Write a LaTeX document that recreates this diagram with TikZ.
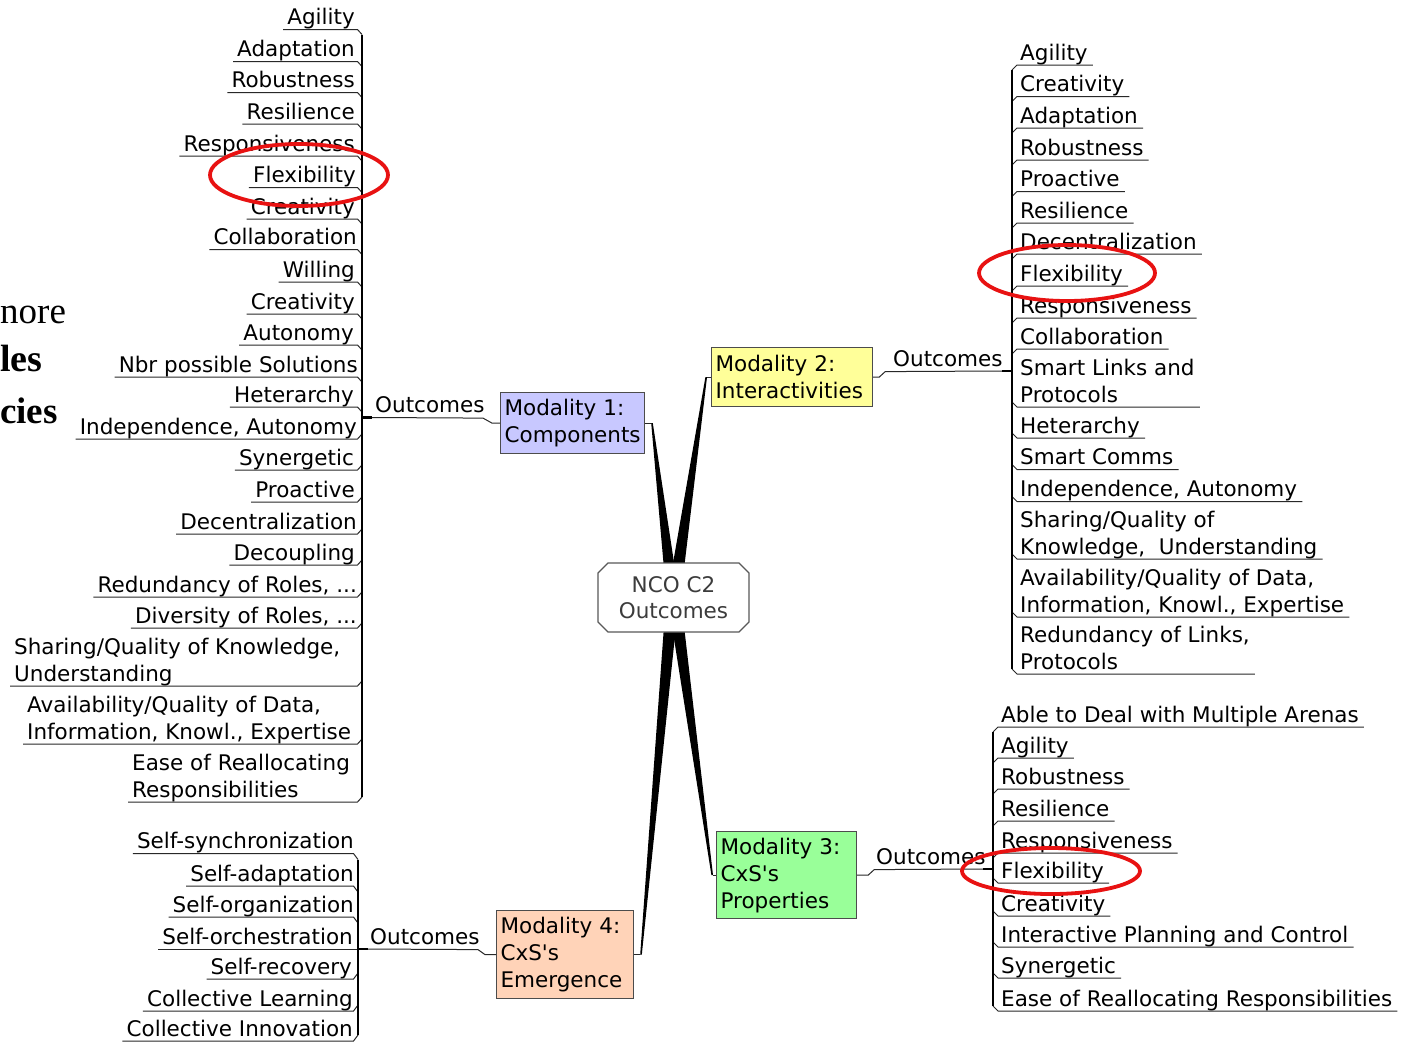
\documentclass[tikz,border=0pt]{standalone}
\usepackage{fontspec}
\setmainfont{DejaVu Sans}
\newfontfamily\serifface{Liberation Serif}
\usetikzlibrary{calc,shapes.misc}

\definecolor{modA}{RGB}{200,200,255}
\definecolor{modB}{RGB}{255,255,153}
\definecolor{modC}{RGB}{153,255,153}
\definecolor{modD}{RGB}{255,211,184}
\definecolor{inkline}{RGB}{40,40,40}
\definecolor{markred}{RGB}{232,18,18}
\definecolor{hubtext}{RGB}{60,60,60}

\tikzset{
  item/.style={inner sep=0pt, align=left, font=\fontsize{21.5}{27}\selectfont},
  twig/.style={draw=inkline, line width=1pt},
  spine/.style={draw=black, line width=1.4pt},
  stub/.style={draw=black, line width=2.6pt},
  modbox/.style={draw=black!70, line width=1.2pt, anchor=north west,
    inner xsep=4pt, inner ysep=0pt, align=left,
    font=\fontsize{21.5}{27}\selectfont},
  wedge/.style={fill=black, draw=none},
  redmark/.style={draw=markred, line width=3.8pt},
}

% topic placed left of a spine, text right-aligned
% #1 name, #2 right x of text, #3 underline y, #4 text, #5 kink dy, #6 spine x
\newcommand\LItem[6]{%
  \node[item, anchor=south east] (#1) at (#2,#3+3.6) {#4\strut};
  \draw[twig] ($(#1.south west)+(-4,-3.6)$) -- (#6-4.5,#3) -- (#6,#3+#5);
}
% multi-line topic left of a spine, text starts at #2
\newcommand\LBlock[6]{%
  \node[item, anchor=south west] (#1) at (#2,#3+3.6) {#4\strut};
  \draw[twig] ($(#1.south west)+(-4,-3.6)$) -- (#6-4.5,#3) -- (#6,#3+#5);
}
% topic placed right of a spine, text starts at #2
\newcommand\RItem[6]{%
  \node[item, anchor=south west] (#1) at (#2,#3+3.6) {#4\strut};
  \draw[twig] (#6,#3+#5) -- (#6+5,#3) -- ($(#1.south east)+(5,-3.6)$);
}

\begin{document}
\begin{tikzpicture}[x=1pt,y=-1pt]
\fill[white] (0,0) rectangle (1418,1042);
\useasboundingbox (0,0) rectangle (1418,1042);

% words at the left border
\node[anchor=base west, inner sep=0pt, font=\serifface\fontsize{37}{37}\selectfont] (w1) at (0,323) {nore};
\node[anchor=base west, inner sep=0pt, font=\serifface\bfseries\fontsize{38}{38}\selectfont] (w2) at (0,371) {les};
\node[anchor=base west, inner sep=0pt, font=\serifface\bfseries\fontsize{37}{37}\selectfont] (w3) at (0,423) {cies};

% ---------------- modality boxes ----------------
\node[modbox, fill=modA, minimum width=144pt, minimum height=61pt, text width=136pt] (m1) at (500,392) {Modality 1:\\Components};
\node[modbox, fill=modB, minimum width=161pt, minimum height=59pt, text width=153pt] (m2) at (711,347) {Modality 2:\\Interactivities};
\node[modbox, fill=modC, minimum width=140pt, minimum height=87pt, text width=132pt] (m3) at (716,831) {Modality 3:\\CxS\textquotesingle s\\Properties};
\node[modbox, fill=modD, minimum width=137pt, minimum height=88pt, text width=129pt] (m4) at (496,910) {Modality 4:\\CxS\textquotesingle s\\Emergence};

% hub position (drawn later, above the wedges)
\coordinate (hubN) at (673.5,563);
\coordinate (hubS) at (673.5,632);

% tapered connectors from the hub to the modalities
\coordinate (t1) at ($(m1.east)+(6,0)$);
\coordinate (t2) at ($(m2.west)+(-4,0)$);
\coordinate (t3) at ($(m3.west)+(-3,0)$);
\coordinate (t4) at ($(m4.east)+(6,0)$);
\draw[twig] (m1.east) -- (t1);
\draw[twig] (m2.west) -- (t2);
\draw[twig] (m3.west) -- (t3);
\draw[twig] (m4.east) -- (t4);
\fill[wedge] (t1) -- ($(t1)+(1.6,0)$) -- ($(hubN)+(1.5,6)$) -- ($(hubN)+(-9.5,6)$) -- cycle;
\fill[wedge] (t2) -- ($(t2)+(-1.6,0)$) -- ($(hubN)+(-1.5,6)$) -- ($(hubN)+(10.5,6)$) -- cycle;
\fill[wedge] (t4) -- ($(t4)+(1.6,0)$) -- ($(hubS)+(2.5,-6)$) -- ($(hubS)+(-9.5,-6)$) -- cycle;
\fill[wedge] (t3) -- ($(t3)+(-1.6,0)$) -- ($(hubS)+(-1.5,-6)$) -- ($(hubS)+(10.5,-6)$) -- cycle;

\node[chamfered rectangle, chamfered rectangle xsep=5pt, chamfered rectangle ysep=5pt,
      draw=black!65, line width=1.2pt, fill=white,
      minimum width=151pt, minimum height=69pt, inner sep=0pt, text=hubtext,
      align=center, font=\fontsize{21.5}{26}\selectfont] (hub) at (673.5,597.5) {NCO C2\\Outcomes};

% ---------------- Modality 1 outcomes ----------------
\LItem{a1}{355}{29.5}{Agility}{5}{362}
\LItem{a2}{355}{61.5}{Adaptation}{5}{362}
\LItem{a3}{355}{92.5}{Robustness}{5}{362}
\LItem{a4}{355}{124}{Resilience}{5}{362}
\LItem{a5}{355}{156}{Responsiveness}{5}{362}
\LItem{a6}{356}{187.5}{Flexibility}{5}{362}
\LItem{a7}{355}{219}{Creativity}{5}{362}
\LItem{a8}{357}{249.5}{Collaboration}{5}{362}
\LItem{a9}{355}{282}{Willing}{5}{362}
\LItem{a10}{355}{314}{Creativity}{5}{362}
\LItem{a11}{354}{345}{Autonomy}{5}{362}
\LItem{a12}{358}{377}{Nbr possible Solutions}{5}{362}
\LItem{a13}{354}{407}{Heterarchy}{5}{362}
\LItem{a14}{357}{439}{Independence, Autonomy}{-5}{362}
\LItem{a15}{354}{470}{Synergetic}{-5}{362}
\LItem{a16}{355}{502}{Proactive}{-5}{362}
\LItem{a17}{357}{534}{Decentralization}{-5}{362}
\LItem{a18}{355}{565}{Decoupling}{-5}{362}
\LItem{a19}{357}{597}{Redundancy of Roles, ...}{-5}{362}
\LItem{a20}{357}{628}{Diversity of Roles, ...}{-5}{362}
\LBlock{a21}{14}{686}{Sharing/Quality of Knowledge,\\Understanding}{-5}{362}
\LBlock{a22}{27}{744}{Availability/Quality of Data,\\Information, Knowl., Expertise}{-5}{362}
\LBlock{a23}{132}{802}{Ease of Reallocating\\Responsibilities}{-5}{362}
\draw[spine] (362,34.5) -- (362,797);
\node[item, anchor=south west] (o1) at (375,421.1) {Outcomes\strut};
\draw[twig] (m1.west) -- ++(-8,0) -- ++(-9,-5) -- ($(o1.south west)+(-3,-3.6)$);
\draw[stub] (362,417.5) -- ($(o1.south west)+(-3,-3.6)$);

% ---------------- Modality 2 outcomes ----------------
\RItem{b1}{1020}{65}{Agility}{5}{1012}
\RItem{b2}{1020}{96.5}{Creativity}{5}{1012}
\RItem{b3}{1020}{128}{Adaptation}{5}{1012}
\RItem{b4}{1020}{160}{Robustness}{5}{1012}
\RItem{b5}{1020}{191.5}{Proactive}{5}{1012}
\RItem{b6}{1020}{223}{Resilience}{5}{1012}
\RItem{b7}{1020}{254}{Decentralization}{5}{1012}
\RItem{b8}{1020}{286}{Flexibility}{5}{1012}
\RItem{b9}{1020}{318}{Responsiveness}{5}{1012}
\RItem{b10}{1020}{349}{Collaboration}{5}{1012}
\RItem{b11}{1020}{407}{Smart Links and\\Protocols}{-5}{1012}
\RItem{b12}{1020}{438}{Heterarchy}{-5}{1012}
\RItem{b13}{1020}{469.5}{Smart Comms}{-5}{1012}
\RItem{b14}{1020}{501.5}{Independence, Autonomy}{-5}{1012}
\RItem{b15}{1020}{559}{Sharing/Quality of\\Knowledge,\ \ Understanding}{-5}{1012}
\RItem{b16}{1020}{617}{Availability/Quality of Data,\\Information, Knowl., Expertise}{-5}{1012}
\RItem{b17}{1020}{674}{Redundancy of Links,\\Protocols}{-5}{1012}
\draw[spine] (1012,70) -- (1012,669);
\node[item, anchor=south west] (o2) at (893,374.6) {Outcomes\strut};
\draw[twig] (m2.east) -- ++(6,0) -- ++(6,-5.5) -- (1002,371);
\draw[stub] (1002,371) -- (1012,371);

% ---------------- Modality 3 outcomes ----------------
\RItem{c1}{1001}{727}{Able to Deal with Multiple Arenas}{5}{993}
\RItem{c2}{1001}{758}{Agility}{5}{993}
\RItem{c3}{1001}{789}{Robustness}{5}{993}
\RItem{c4}{1001}{821}{Resilience}{5}{993}
\RItem{c5}{1001}{853}{Responsiveness}{5}{993}
\RItem{c6}{1001}{883}{Flexibility}{-5}{993}
\RItem{c7}{1001}{916}{Creativity}{-5}{993}
\RItem{c8}{1001}{947}{Interactive Planning and Control}{-5}{993}
\RItem{c9}{1001}{978}{Synergetic}{-5}{993}
\RItem{c10}{1001}{1011}{Ease of Reallocating Responsibilities}{-5}{993}
\draw[spine] (993,732) -- (993,1006);
\node[item, anchor=south west] (o3) at (876,872.6) {Outcomes\strut};
\draw[twig] (m3.east) -- ++(11,0) -- ++(6,-5.5) -- (983,869);
\draw[stub] (983,869) -- (993,869);

% ---------------- Modality 4 outcomes ----------------
\LItem{d1}{354}{853.5}{Self-synchronization}{6}{358}
\LItem{d2}{354}{886}{Self-adaptation}{6}{358}
\LItem{d3}{354}{917}{Self-organization}{6}{358}
\LItem{d4}{353}{949}{Self-orchestration}{0}{358}
\LItem{d5}{352}{979}{Self-recovery}{-6}{358}
\LItem{d6}{353}{1011}{Collective Learning}{-6}{358}
\LItem{d7}{353}{1041}{Collective Innovation}{-6}{358}
\draw[spine] (358,859.5) -- (358,1035);
\node[item, anchor=south west] (o4) at (370,952.6) {Outcomes\strut};
\draw[twig] (m4.west) -- ++(-11,0) -- ++(-7,-5) -- (368,949);
\draw[stub] (358,949) -- (368,949);

% ---------------- highlight rings ----------------
\draw[redmark] (299,175) ellipse [x radius=89pt, y radius=31pt];
\draw[redmark] (1067,273) ellipse [x radius=88pt, y radius=28pt];
\draw[redmark] (1051,871) ellipse [x radius=89pt, y radius=23pt];
\end{tikzpicture}
\end{document}
